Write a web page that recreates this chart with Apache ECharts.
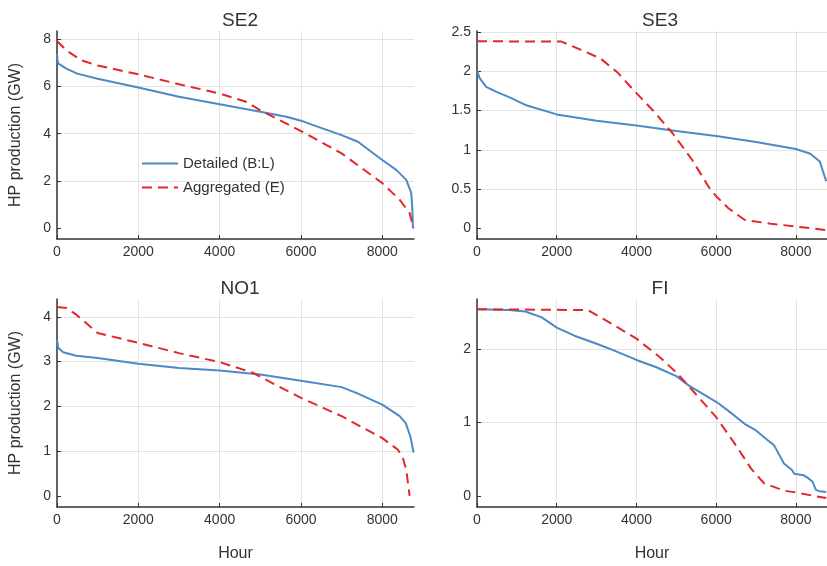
<!DOCTYPE html>
<html>
<head>
<meta charset="utf-8">
<script src="https://cdn.jsdelivr.net/npm/echarts@6/dist/echarts.min.js"></script>
<style>
  html, body { margin: 0; padding: 0; background: #fff; }
  #chart { width: 827px; height: 566px; }
</style>
</head>
<body>
<div id="chart"></div>
<script>
// duration curves, [hour, GW]
const regions = ['SE2', 'SE3', 'NO1', 'FI']
const xTicks = [0, 2000, 4000, 6000, 8000]

const se2Detailed = [[0, 7.38], [10, 7.15], [33, 6.96], [230, 6.75], [500, 6.54], [1000, 6.32], [2000, 5.95],
  [3000, 5.56], [4000, 5.24], [5000, 4.93], [5640, 4.72], [6000, 4.55], [6300, 4.36], [7000, 3.94],
  [7400, 3.66], [8000, 2.89], [8344, 2.47], [8590, 2.05], [8713, 1.49], [8740, 0.8], [8754, 0]]
const se2Aggregated = [[0, 7.92], [230, 7.52], [600, 7.1], [1000, 6.88], [2000, 6.51], [3000, 6.09],
  [4000, 5.7], [4650, 5.35], [5000, 4.99], [6000, 4.11], [7000, 3.17], [8000, 1.91], [8426, 1.21],
  [8672, 0.65], [8770, 0]]

const se3Detailed = [[0, 2.01], [66, 1.91], [230, 1.8], [476, 1.74], [804, 1.67], [1214, 1.57], [2000, 1.45],
  [3000, 1.37], [4000, 1.31], [5000, 1.24], [6000, 1.175], [7000, 1.1], [8000, 1.01], [8360, 0.95],
  [8600, 0.85], [8760, 0.6]]
const se3Aggregated = [[0, 2.38], [2120, 2.375], [2610, 2.27], [3100, 2.16], [3510, 1.99], [4000, 1.72],
  [4415, 1.5], [4907, 1.21], [5400, 0.87], [5810, 0.53], [6000, 0.41], [6300, 0.26], [6710, 0.11],
  [7370, 0.06], [8000, 0.025], [8430, 0.0], [8760, -0.02]]

const no1Detailed = [[0, 3.48], [30, 3.31], [150, 3.21], [475, 3.13], [1000, 3.08], [2000, 2.95], [3000, 2.86],
  [4000, 2.8], [5000, 2.71], [6000, 2.57], [7000, 2.43], [7360, 2.3], [8000, 2.04], [8426, 1.78],
  [8574, 1.63], [8690, 1.33], [8770, 0.97]]
const no1Aggregated = [[0, 4.22], [230, 4.2], [475, 4.05], [1000, 3.64], [2000, 3.42], [3000, 3.19],
  [4000, 2.99], [4820, 2.75], [5000, 2.66], [6000, 2.19], [7000, 1.78], [8000, 1.29], [8385, 1.03],
  [8508, 0.84], [8590, 0.58], [8672, 0]]

const fiDetailed = [[0, 2.54], [804, 2.53], [1214, 2.51], [1625, 2.43], [2000, 2.29], [2445, 2.18], [3000, 2.07],
  [3430, 1.98], [4000, 1.85], [4500, 1.75], [5000, 1.63], [5317, 1.5], [6000, 1.28], [6300, 1.16],
  [6710, 0.98], [7000, 0.89], [7285, 0.76], [7450, 0.69], [7700, 0.44], [7900, 0.35], [7960, 0.3],
  [8190, 0.28], [8310, 0.24], [8420, 0.19], [8500, 0.08], [8600, 0.06], [8760, 0.05]]
const fiAggregated = [[0, 2.54], [2775, 2.53], [3265, 2.38], [4000, 2.14], [4580, 1.89], [5000, 1.68],
  [5480, 1.39], [6000, 1.07], [6465, 0.71], [6875, 0.37], [7200, 0.17], [7700, 0.07], [8000, 0.045],
  [8430, 0.0], [8760, -0.03]]

const yTicks = [[0, 2, 4, 6, 8], [0, 0.5, 1, 1.5, 2, 2.5], [0, 1, 2, 3, 4], [0, 1, 2]]
const yRanges = [[-0.45, 8.34], [-0.134, 2.51], [-0.25, 4.4], [-0.153, 2.68]]
const yStep = [2, 0.5, 1, 1]
const detailed = [se2Detailed, se3Detailed, no1Detailed, fiDetailed]
const aggregated = [se2Aggregated, se3Aggregated, no1Aggregated, fiAggregated]

const BLUE = '#4a8ac6'
const RED = '#e3262b'
const TEXT = '#333'
const FONT = 'Liberation Sans, Arial, sans-serif'

const grids = [
  { left: 57, top: 31, width: 357, height: 208 },
  { left: 477, top: 31, width: 357, height: 208 },
  { left: 57, top: 299, width: 357, height: 208 },
  { left: 477, top: 299, width: 357, height: 208 }
]

const chart = echarts.init(document.getElementById('chart'), null, { renderer: 'canvas' })

const xAxes = grids.map((g, i) => ({
  type: 'value',
  gridIndex: i,
  min: 0,
  max: 8780,
  interval: 2000,
  name: i >= 2 ? 'Hour' : '',
  nameLocation: 'middle',
  nameGap: 39,
  nameTextStyle: { fontSize: 16, color: TEXT, fontFamily: FONT },
  axisLine: { onZero: false, lineStyle: { color: '#333', width: 1.5 } },
  axisTick: { inside: true, length: 4, lineStyle: { color: '#333' }, customValues: xTicks },
  axisLabel: { fontSize: 14, color: TEXT, fontFamily: FONT, margin: 6, customValues: xTicks,
    formatter: v => String(v) },
  splitLine: { show: true, showMaxLine: true, lineStyle: { color: '#e2e2e2', width: 1 } }
}))

const yAxes = grids.map((g, i) => ({
  type: 'value',
  gridIndex: i,
  min: yRanges[i][0],
  max: yRanges[i][1],
  splitNumber: 5,
  minInterval: yStep[i],
  maxInterval: yStep[i],
  name: i % 2 === 0 ? 'HP production (GW)' : '',
  nameLocation: 'middle',
  nameGap: 33,
  nameTextStyle: { fontSize: 16, color: TEXT, fontFamily: FONT },
  axisLine: { onZero: false, lineStyle: { color: '#333', width: 1.5 } },
  axisTick: { show: true, inside: true, length: 4, lineStyle: { color: '#333' }, customValues: yTicks[i] },
  axisLabel: { fontSize: 14, color: TEXT, fontFamily: FONT, margin: 6, customValues: yTicks[i],
    formatter: v => String(v) },
  splitLine: { show: true, showMinLine: false, showMaxLine: true, lineStyle: { color: '#e2e2e2', width: 1 } }
}))

const series = []
regions.forEach((r, i) => {
  series.push({
    name: 'Detailed (B:L)',
    type: 'line',
    xAxisIndex: i,
    yAxisIndex: i,
    data: detailed[i],
    symbol: 'none',
    lineStyle: { color: BLUE, width: 2 },
    itemStyle: { color: BLUE }
  })
  series.push({
    name: 'Aggregated (E)',
    type: 'line',
    xAxisIndex: i,
    yAxisIndex: i,
    data: aggregated[i],
    symbol: 'none',
    lineStyle: { color: RED, width: 2, type: [10, 6] },
    itemStyle: { color: RED }
  })
})

chart.setOption({
  animation: false,
  backgroundColor: '#fff',
  title: regions.map((r, i) => ({
    text: r,
    left: grids[i].left + 178,
    top: i < 2 ? 6 : 274,
    textAlign: 'center',
    textStyle: { fontSize: 19, fontWeight: 'normal', color: TEXT, fontFamily: FONT }
  })),
  legend: {
    left: 136,
    top: 151,
    orient: 'vertical',
    itemWidth: 36,
    itemHeight: 14,
    itemGap: 9,
    itemStyle: { opacity: 0 },
    textStyle: { fontSize: 15, color: TEXT, fontFamily: FONT },
    data: ['Detailed (B:L)', 'Aggregated (E)']
  },
  grid: grids,
  xAxis: xAxes,
  yAxis: yAxes,
  series: series
})
</script>
</body>
</html>
